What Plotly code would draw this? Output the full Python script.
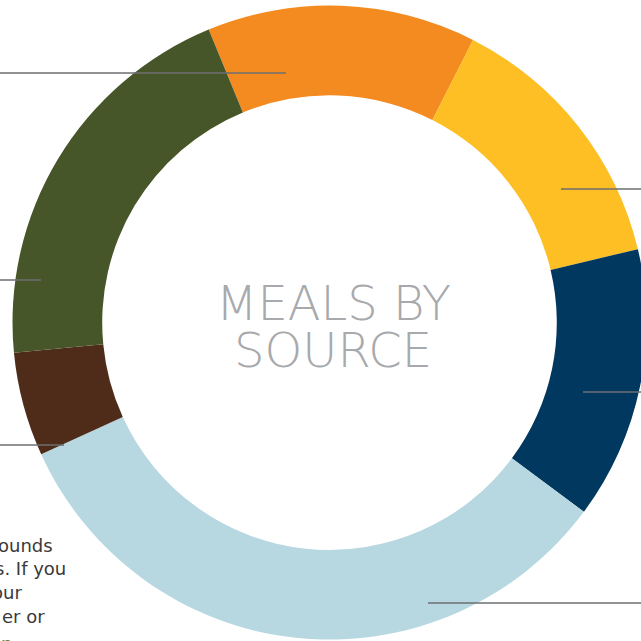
import plotly.graph_objects as go

# ---- data (% of meals) ----
sources = ["Source A", "Source B", "Source C", "Source D", "Source E", "Source F"]
shares = [13.7, 13.8, 13.9, 33.0, 5.3, 20.3]
colors = ["#F38B21", "#FDBF24", "#00385F", "#B7D7E1", "#4F2C1A", "#475628"]
center_title = ["MEALS BY", "SOURCE"]
side_text = ["ounds", "s. If you", "our", "er or"]
side_text_tail = "n"

W, H = 659, 645  # canvas larger than the 641 viewport so the ring is cropped like the original


def px(x):
    return x / W


def py(y):
    return 1 - y / H


fig = go.Figure(
    go.Pie(
        labels=sources,
        values=shares,
        marker=dict(colors=colors, line=dict(width=0)),
        hole=0.717,
        sort=False,
        direction="clockwise",
        rotation=-22.4,
        textinfo="none",
        hoverinfo="label+percent",
        showlegend=False,
        domain=dict(x=[0, 1], y=[5.4 / H, 1 - 5.6 / H]),
    )
)

# leader lines
lines = [(0, 286, 73), (561, W, 189), (583, W, 392), (428, W, 603), (0, 41, 280), (0, 64, 445)]
for x0, x1, y in lines:
    fig.add_shape(type="line", xref="paper", yref="paper",
                  x0=px(x0), x1=px(x1), y0=py(y), y1=py(y),
                  line=dict(color="#6D6E71", width=1.5), layer="above")

for t, yb in zip(center_title, [333, 380]):
    fig.add_annotation(
        x=px(333), y=py(yb), xref="paper", yref="paper",
        text=t, showarrow=False,
        font=dict(family="DejaVu Sans", size=48, color="#A7A9AC", weight=200),
        xanchor="center", yanchor="bottom",
    )

right_ends = [55, 68, 24, 47]
for i, (t, xr) in enumerate(zip(side_text, right_ends)):
    fig.add_annotation(
        x=px(xr), y=py([558, 581, 605, 629][i]), xref="paper", yref="paper",
        text=t, showarrow=False, xanchor="right", yanchor="bottom",
        font=dict(family="DejaVu Sans", size=18, color="#3A3A3A"),
    )
fig.add_annotation(
    x=px(-1), y=py(656), xref="paper", yref="paper",
    text=side_text_tail, showarrow=False, xanchor="left", yanchor="bottom",
    font=dict(family="DejaVu Sans", size=18, color="#6B7A2E"),
)

fig.update_layout(
    width=W, height=H,
    margin=dict(l=0, r=0, t=0, b=0),
    paper_bgcolor="white", plot_bgcolor="white",
)

fig.write_html(
    "out.html",
    post_script="document.documentElement.style.overflow='hidden';document.body.style.overflow='hidden';document.body.style.margin='0';",
)
